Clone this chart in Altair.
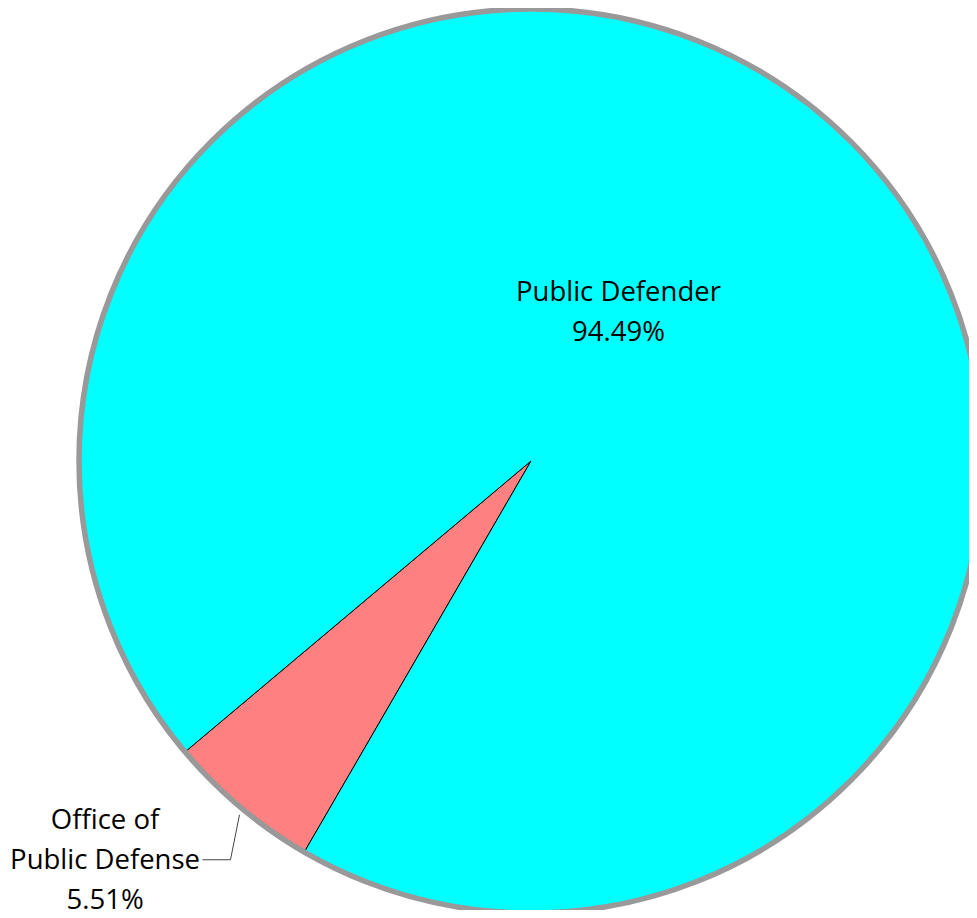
import math
import altair as alt
import pandas as pd

# ---- data ----
categories = ["Office of Public Defense", "Public Defender"]
shares = [5.51, 94.49]
colors = ["#FF8080", "#00FFFF"]
slice_order = [0, 1]
pct_labels = ["5.51%", "94.49%"]
label_lines = ["Office of\nPublic Defense", "Public Defender"]

# ---- layout / style ----
W, H = 961, 902
CX, CY = 523, 453          # pie centre in chart pixels
R = 452                     # pie radius
START = math.radians(210.1) # rotation of the first slice (clockwise from 12 o'clock)
FONT = "Open Sans"
FS = 27.5
TOTAL = sum(shares)

df = pd.DataFrame({
    "category": categories,
    "share": shares,
    "ord": slice_order,
    "pct": pct_labels,
    "lab": label_lines,
})

theta_scale = alt.Scale(domain=[0, TOTAL], range=[START, START + 2 * math.pi])
base = alt.Chart(df).transform_window(
    cum="sum(share)", sort=[alt.SortField("ord")], frame=[None, 0]
).transform_calculate(
    start="datum.cum - datum.share",
    mid="datum.cum - datum.share / 2",
    txt="datum.lab + '\\n' + datum.pct",
).encode(x=alt.value(CX), y=alt.value(CY))

arcs = base.mark_arc(radius=R, stroke="black", strokeWidth=1).encode(
    theta=alt.Theta("start:Q", scale=theta_scale),
    theta2="cum:Q",
    color=alt.Color("category:N", scale=alt.Scale(domain=categories, range=colors), legend=None),
)

# outer gray rim
rim = alt.Chart(df).mark_arc(
    radius=R, theta=0, theta2=2 * math.pi, fillOpacity=0, stroke="#999999", strokeWidth=5.5
).encode(x=alt.value(CX), y=alt.value(CY)).transform_filter(alt.datum.ord == 0)

txt_theta = alt.Theta("mid:Q", scale=theta_scale)
text_style = dict(align="center", baseline="alphabetic", font=FONT, fontSize=FS,
                  lineBreak="\n", lineHeight=40, color="black")

pd_text = base.transform_filter(alt.datum.category == "Public Defender").mark_text(
    radius=180, dx=-28.3, dy=-21.7, **text_style
).encode(theta=txt_theta, text="txt:N")

office_text = base.transform_filter(alt.datum.category == "Office of Public Defense").mark_text(
    radius=R, dx=-135.3, dy=22, **text_style
).encode(theta=txt_theta, text="txt:N")

# leader line for the small slice, anchored at its mid-angle on the rim
mid = START + 2 * math.pi * (shares[0] / TOTAL) / 2
ax = CX + (R + 6) * math.sin(mid) + 3
ay = CY - (R + 6) * math.cos(mid) + 3
leader_df = pd.DataFrame({
    "px": [ax, ax - 9, ax - 37],
    "py": [ay, ay + 45, ay + 45],
    "o": [0, 1, 2],
})
leader = alt.Chart(leader_df).mark_line(color="#444444", strokeWidth=1).encode(
    x=alt.X("px:Q", scale=None),
    y=alt.Y("py:Q", scale=None),
    order="o:Q",
)

chart = alt.layer(arcs, rim, pd_text, office_text, leader).properties(
    width=W, height=H, padding=0, autosize=alt.AutoSizeParams(type="none")
).configure_view(stroke=None)

chart.save("out.html", embed_options={"renderer": "svg", "actions": False})
